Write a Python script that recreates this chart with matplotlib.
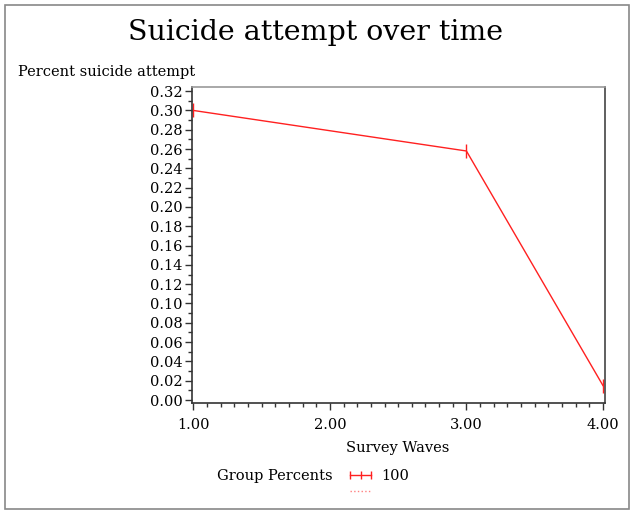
import matplotlib
matplotlib.use("Agg")
import matplotlib.pyplot as plt
from matplotlib.lines import Line2D
from matplotlib.patches import Rectangle
from matplotlib.ticker import MultipleLocator, FormatStrFormatter

waves = [1.0, 3.0, 4.0]
percents = [0.300, 0.258, 0.015]
group_label = "100"
title = "Suicide attempt over time"
xlabel = "Survey Waves"
ylabel = "Percent suicide attempt"

plt.rcParams['font.family'] = ['DejaVu Serif']

fig = plt.figure(figsize=(6.34, 5.14), dpi=100)
fig.patches.append(Rectangle((5/634, 5/514), 624/634, 504/514, transform=fig.transFigure,
                             fill=False, edgecolor='#888888', linewidth=1.2))

ax = fig.add_axes([192/634, 1-403/514, (605-192)/634, (403-87)/514])
ax.plot(waves, percents, color='#ff2020', linewidth=1.0, marker='|', markersize=10,
        markeredgewidth=1.0)
ax.set_xlim(0.99, 4.015)
ax.set_ylim(-0.0031, 0.3243)
ax.xaxis.set_major_locator(MultipleLocator(1.0))
ax.xaxis.set_minor_locator(MultipleLocator(0.1))
ax.yaxis.set_major_locator(MultipleLocator(0.02))
ax.yaxis.set_minor_locator(MultipleLocator(0.01))
ax.xaxis.set_major_formatter(FormatStrFormatter('%.2f'))
ax.yaxis.set_major_formatter(FormatStrFormatter('%.2f'))
ax.tick_params(axis='both', which='major', length=5, width=1, labelsize=10.5, color='#333333')
ax.tick_params(axis='both', which='minor', length=3, width=1, color='#333333')
ax.tick_params(axis='x', pad=6)
ax.tick_params(axis='y', pad=2)
for s in ['left', 'bottom']:
    ax.spines[s].set_color('#333333')
ax.spines['right'].set_color('#444444')
ax.spines['top'].set_color('#999999')
for s in ax.spines.values():
    s.set_linewidth(1.2)

fig.text(316/634, 1-32/514, title, ha='center', va='center', fontsize=20.5)
fig.text(18/634, 1-72/514, ylabel, ha='left', va='center', fontsize=10.5)
fig.text(398/634, 1-448/514, xlabel, ha='center', va='center', fontsize=10.5)
fig.text(217/634, 1-476/514, "Group Percents", ha='left', va='center', fontsize=10.5)

h1 = Line2D([], [], color='#ff2020', linewidth=1.0, marker='|', markersize=6)
h2 = Line2D([], [], color='#ff8080', linewidth=1.0, linestyle=':')
leg = fig.legend([h1, h2], [group_label, ""], loc='upper left',
                 bbox_to_anchor=(346/634, 1-469/514), frameon=False, numpoints=3,
                 handlelength=2.0, handletextpad=0.4, labelspacing=0.12, fontsize=10.5,
                 borderpad=0, borderaxespad=0)

fig.savefig("out.png", dpi=100)
